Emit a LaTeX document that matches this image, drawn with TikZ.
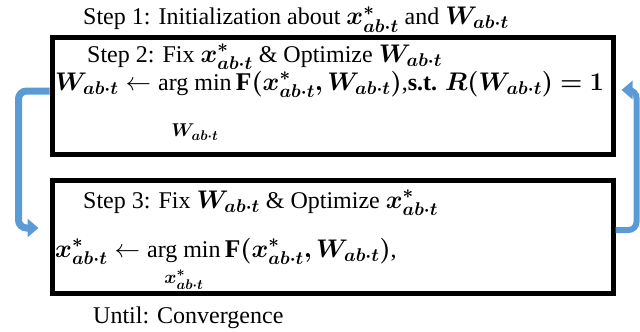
\documentclass[tikz,border=0pt]{standalone}
\usepackage{fix-cm}
\usepackage{amsmath,bm}
\usepackage{fontspec}
\setmainfont{Liberation Serif}
\usetikzlibrary{arrows.meta}
\DeclareMathSizes{24}{25.5}{18.5}{14}
\definecolor{arrowblue}{RGB}{91,155,213}
\newcommand{\xab}{\bm{x^{*}_{ab\cdot t}}}
\newcommand{\Wab}{\bm{W_{ab\cdot t}}}
\newcommand{\argmn}[2]{\mathop{\text{arg min}\rule[-#1]{0pt}{#1}}\limits_{#2}}

\begin{document}
\begin{tikzpicture}[x=1pt, y=-1pt,
   txt/.style={anchor=base west, inner sep=0pt, font=\fontsize{24}{28}\selectfont},
   stepbox/.style={draw, line width=5pt, minimum width=561pt},
   cyclearrow/.style={draw=arrowblue, line width=7pt, rounded corners=8pt,
      -{Triangle[width=18pt,length=11pt]}}]
   \useasboundingbox (0,0) rectangle (640,332);

   \node [stepbox, minimum height=117pt] (stepA) at (332.5,95.5) {};
   \node [stepbox, minimum height=113pt] (stepB) at (332.5,236.5) {};

   \node [txt] (init) at (83,24.5) {Step 1: Initialization about $\xab$ and $\Wab$};
   \node [txt] (fixx) at (87,62) {Step 2: Fix $\xab$ \& Optimize $\Wab$};
   \node [txt] (updW) at (55,90) {$\Wab \leftarrow \argmn{30pt}{\Wab} \mathbf{F}\bm{(}\xab\bm{,}\Wab\bm{)}$,\textbf{s.t.} $\bm{R(}\Wab\bm{)=1}$};
   \node [txt] (fixW) at (83,208) {Step 3: Fix $\Wab$ \& Optimize $\xab$};
   \node [txt] (updx) at (55,257) {$\xab \leftarrow \argmn{9pt}{\xab} \mathbf{F}\bm{(}\xab\bm{,}\Wab\bm{)}$,};
   \node [txt] (until) at (93,323) {Until: Convergence};

   % loop between the two steps
   \draw [cyclearrow, shorten >=11pt] ([yshift=4.5pt]stepA.west) -- ++(-31,0) |- ([yshift=8.5pt]stepB.west);
   \draw [cyclearrow, line width=6pt, shorten >=6pt] ([yshift=6.5pt]stepB.east) -- ++(21,0) |- ([yshift=5.5pt]stepA.east);
\end{tikzpicture}
\end{document}
